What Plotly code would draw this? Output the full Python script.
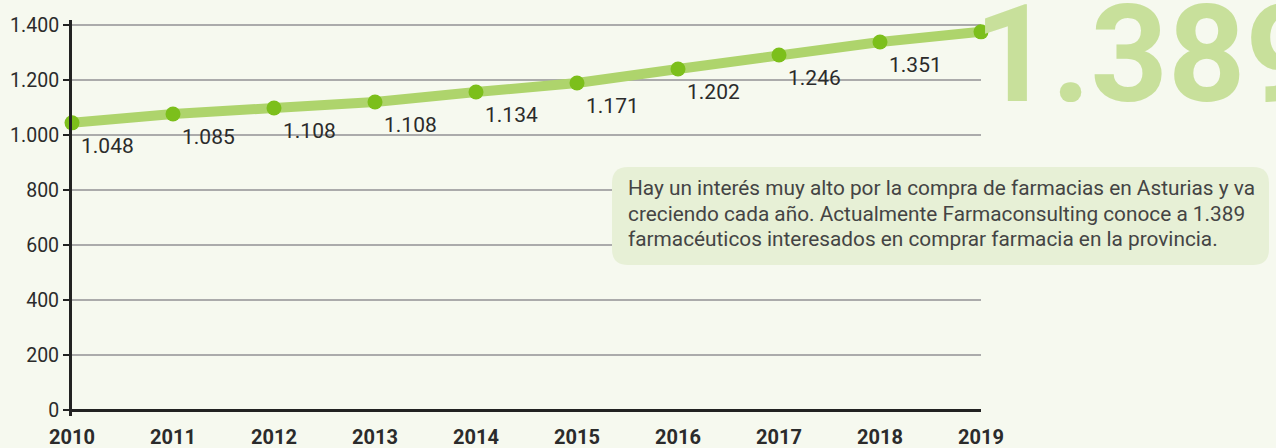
import plotly.graph_objects as go

# ---- data ----
years = [2010, 2011, 2012, 2013, 2014, 2015, 2016, 2017, 2018, 2019]
values = [1044, 1076, 1098, 1120, 1156, 1189, 1240, 1291, 1338, 1375]
value_labels = ["1.048", "1.085", "1.108", "1.108", "1.134", "1.171", "1.202", "1.246", "1.351", ""]
y_ticks = [0, 200, 400, 600, 800, 1000, 1200, 1400]
big_number = "1.389"
note_lines = [
    "Hay un interés muy alto por la compra de farmacias en Asturias y va",
    "creciendo cada año. Actualmente Farmaconsulting conoce a 1.389",
    "farmacéuticos interesados en comprar farmacia en la provincia.",
]

W, H = 1276, 448
L, R, T, B = 72, 295, 20, 32
PW, PH = W - L - R, H - T - B

def px_x(px):
    return (px - L) / PW

def px_y(py):
    return 1 - (py - T) / PH

BG = "#f6f9ef"
FONT = "Roboto"

fig = go.Figure()
fig.add_trace(go.Scatter(
    x=years, y=values, mode="lines+markers",
    line=dict(color="#aed46c", width=10),
    marker=dict(color="#7cbf1b", size=15),
    cliponaxis=False, hoverinfo="skip", showlegend=False,
))

annotations = []
for xv, yv, lab in zip(years, values, value_labels):
    if lab:
        annotations.append(dict(
            x=xv, y=yv, xref="x", yref="y", text=lab, showarrow=False,
            xanchor="center", yanchor="middle", xshift=35, yshift=-23,
            font=dict(family=FONT, size=21, color="#2b2b2b"),
        ))

# big number
annotations.append(dict(
    x=px_x(972), y=px_y(55), xref="paper", yref="paper", text="<b>" + big_number + "</b>",
    showarrow=False, xanchor="left", yanchor="middle",
    font=dict(family=FONT, size=135, color="#c8e09b"),
))

# note box
bx0, by0, bx1, by1, rr = 612, 167, 1269, 265, 16
def P(x, y):
    return f"{px_x(x)},{px_y(y)}"
path = (f"M {P(bx0+rr, by0)} L {P(bx1-rr, by0)} Q {P(bx1, by0)} {P(bx1, by0+rr)} "
        f"L {P(bx1, by1-rr)} Q {P(bx1, by1)} {P(bx1-rr, by1)} "
        f"L {P(bx0+rr, by1)} Q {P(bx0, by1)} {P(bx0, by1-rr)} "
        f"L {P(bx0, by0+rr)} Q {P(bx0, by0)} {P(bx0+rr, by0)} Z")
shapes = [dict(type="path", path=path, xref="paper", yref="paper",
               fillcolor="#e7f0d6", line=dict(width=0), layer="above")]

for i, line in enumerate(note_lines):
    annotations.append(dict(
        x=px_x(626), y=px_y(188 + i * 25.5), xref="paper", yref="paper", text=line,
        showarrow=False, xanchor="left", yanchor="middle", align="left",
        font=dict(family=FONT, size=20.8, color="#444444"),
    ))

fig.update_layout(
    width=W, height=H,
    margin=dict(l=L, r=R, t=T, b=B, autoexpand=False),
    paper_bgcolor=BG, plot_bgcolor=BG,
    separators=",.",
    xaxis=dict(
        range=[2010, 2019], tickvals=years, ticktext=[f"<b>{y}</b>" for y in years],
        showgrid=False, zeroline=False, showline=False, ticks="",
        tickfont=dict(family=FONT, size=20, color="#2b2b2b"),
        ticklabelstandoff=7,
        automargin=False, fixedrange=True,
    ),
    yaxis=dict(
        range=[-21.8, 1418], tickvals=y_ticks, tickformat=",d",
        showgrid=True, gridcolor="#ababab", gridwidth=2,
        zeroline=True, zerolinecolor="#222222", zerolinewidth=3,
        showline=True, linecolor="#222222", linewidth=3,
        ticks="outside", ticklen=6, tickwidth=2, tickcolor="#222222",
        tickfont=dict(family=FONT, size=19.5, color="#2b2b2b"),
        automargin=False, fixedrange=True,
    ),
    annotations=annotations,
    shapes=shapes,
)

fig.write_html(
    "out.html",
    config={"displayModeBar": False},
    post_script="document.body.style.margin='0px';document.body.style.background='%s';" % BG,
)
